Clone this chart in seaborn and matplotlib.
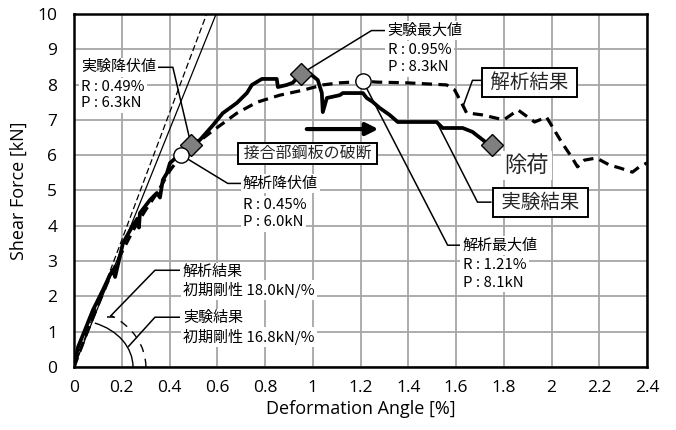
import matplotlib
matplotlib.use("Agg")
import matplotlib.pyplot as plt
from matplotlib.patches import Arc
import seaborn as sns
import pandas as pd

# Test result (experiment): deformation angle [%] vs shear force [kN]
exp_angle = [0, 0.017, 0.046, 0.079, 0.121, 0.150, 0.163, 0.172, 0.205, 0.243,
             0.265, 0.272, 0.276, 0.318, 0.347, 0.360, 0.372, 0.389, 0.402,
             0.431, 0.49, 0.527, 0.582, 0.623, 0.682, 0.724, 0.745, 0.787,
             0.849, 0.854, 0.891, 0.916, 0.95, 0.99, 1.021, 1.038, 1.042, 1.059,
             1.113, 1.126, 1.21, 1.226, 1.251, 1.28, 1.322, 1.356, 1.519, 1.544,
             1.628, 1.669, 1.728, 1.75]
exp_force = [0, 0.57, 1.05, 1.61, 2.18, 2.60, 2.75, 2.55, 3.51, 3.97,
             4.20, 3.95, 4.36, 4.73, 4.93, 4.80, 5.30, 5.49, 5.78,
             5.95, 6.30, 6.43, 6.85, 7.19, 7.48, 7.76, 7.99, 8.16,
             8.16, 7.93, 7.99, 8.05, 8.30, 8.30, 8.13, 7.76, 7.22, 7.62,
             7.70, 7.76, 7.76, 7.62, 7.51, 7.34, 7.14, 6.94, 6.94, 6.77,
             6.77, 6.66, 6.35, 6.30]

# Analysis result
ana_angle = [0, 0.05, 0.10, 0.15, 0.20, 0.25, 0.30, 0.35, 0.40, 0.45, 0.569,
             0.682, 0.766, 0.862, 0.958, 1.042, 1.113, 1.167, 1.21, 1.268,
             1.393, 1.561, 1.594, 1.628, 1.644, 1.711, 1.80, 1.86, 1.929, 1.979,
             2.004, 2.042, 2.084, 2.109, 2.138, 2.188, 2.243, 2.285, 2.339,
             2.368, 2.40]
ana_force = [0, 0.90, 1.75, 2.55, 3.25, 3.90, 4.45, 4.95, 5.55, 6.00, 6.63,
             7.19, 7.50, 7.70, 7.84, 7.99, 8.05, 8.07, 8.10, 8.07,
             8.05, 7.99, 7.85, 7.42, 7.20, 7.14, 7.00, 7.28, 6.94, 7.08,
             6.80, 6.37, 5.95, 5.67, 5.86, 5.92, 5.72, 5.64, 5.52,
             5.67, 5.78]

# Characteristic points
exp_yield = (0.49, 6.3)
exp_max = (0.95, 8.3)
exp_unload = (1.75, 6.3)
ana_yield = (0.45, 6.0)
ana_max = (1.21, 8.1)

# Initial stiffness [kN/%]
k_ana = 18.0
k_exp = 16.8

x_ticks = [0, 0.2, 0.4, 0.6, 0.8, 1, 1.2, 1.4, 1.6, 1.8, 2, 2.2, 2.4]
x_tick_labels = ["0", "0.2", "0.4", "0.6", "0.8", "1", "1.2", "1.4", "1.6",
                 "1.8", "2", "2.2", "2.4"]
y_ticks = list(range(0, 11))

sns.set_theme(style="whitegrid")
plt.rcParams["font.family"] = ["Open Sans", "Noto Sans CJK JP", "DejaVu Sans"]
JP = ["Noto Sans CJK JP", "DejaVu Sans"]

fig = plt.figure(figsize=(6.76, 4.30), dpi=100)
ax = fig.add_axes([0.1095, 0.1465, 0.8476, 0.821])

df_exp = pd.DataFrame({"angle": exp_angle, "force": exp_force})
df_ana = pd.DataFrame({"angle": ana_angle, "force": ana_force})

# Initial stiffness lines from the origin up to the top of the plot
ymax = 10
df_kexp = pd.DataFrame({"angle": [0, ymax / k_exp], "force": [0, ymax]})
df_kana = pd.DataFrame({"angle": [0, ymax / k_ana], "force": [0, ymax]})
sns.lineplot(data=df_kexp, x="angle", y="force", ax=ax, color="black", lw=0.9,
             sort=False, estimator=None, zorder=3)
sns.lineplot(data=df_kana, x="angle", y="force", ax=ax, color="black", lw=0.9,
             sort=False, estimator=None, zorder=3, linestyle=(0, (5, 2.5)))

sns.lineplot(data=df_ana, x="angle", y="force", ax=ax, color="black", lw=2.3,
             sort=False, estimator=None, zorder=4, linestyle=(0, (3.2, 2.0)))
sns.lineplot(data=df_exp, x="angle", y="force", ax=ax, color="black", lw=2.7,
             sort=False, estimator=None, zorder=4)

# Arcs marking the initial stiffness
ax.add_patch(Arc((0, 0), 2 * 0.247, 2 * 1.33, theta1=0, theta2=86,
                 color="black", lw=1.0, zorder=3))
ax.add_patch(Arc((0, 0), 2 * 0.301, 2 * 1.70, theta1=0, theta2=84,
                 color="black", lw=1.0, ls=(0, (6, 5)), zorder=3))

# Leader lines
def leader(xs, ys, lw=1.1):
    ax.plot(xs, ys, color="black", lw=lw, zorder=5, solid_capstyle="butt")

leader([0.351, 0.414, exp_yield[0]], [8.49, 8.49, exp_yield[1]])
leader([1.31, 1.246, exp_max[0]], [9.53, 9.53, exp_max[1]])
leader([ana_yield[0], 0.644, 0.703], [ana_yield[1], 5.20, 5.20])
leader([ana_max[0], 1.565, 1.623], [ana_max[1], 3.45, 3.45])
leader([1.707, 1.669, 1.628], [8.12, 8.12, 7.36])
leader([1.749, 1.69, 1.519], [4.67, 4.67, 6.94])
leader([0.444, 0.339, 0.151], [2.74, 2.74, 1.43])
leader([0.140, 0.166], [1.43, 1.43])
leader([0.444, 0.339, 0.226], [1.41, 1.41, 0.566])

# Markers
ax.plot([exp_yield[0], exp_max[0], exp_unload[0]],
        [exp_yield[1], exp_max[1], exp_unload[1]], ls="none", marker="D",
        ms=11.5, mfc="#7f7f7f", mec="black", mew=1.0, zorder=7)
ax.plot([ana_yield[0], ana_max[0]], [ana_yield[1], ana_max[1]], ls="none",
        marker="o", ms=11, mfc="white", mec="black", mew=1.0, zorder=7)

# Text annotations
plain_bbox = dict(boxstyle="square,pad=0.15", fc="white", ec="none")
def label(x, y, s, size=10.8, **kw):
    ax.text(x, y, s, fontsize=size, family=JP, va="center", ha="left",
            color="black", zorder=6, bbox=plain_bbox, **kw)

label(0.029, 8.49, "実験降伏値")
label(0.029, 7.92, "R : 0.49%")
label(0.029, 7.47, "P : 6.3kN")

label(1.314, 9.53, "実験最大値")
label(1.314, 8.97, "R : 0.95%")
label(1.314, 8.49, "P : 8.3kN")

label(0.707, 5.20, "解析降伏値")
label(0.707, 4.58, "R : 0.45%")
label(0.707, 4.10, "P : 6.0kN")

label(1.628, 3.45, "解析最大値")
label(1.628, 2.89, "R : 1.21%")
label(1.628, 2.38, "P : 8.1kN")

label(0.456, 2.69, "解析結果")
label(0.456, 2.18, "初期剛性 18.0kN/%")
label(0.456, 1.39, "実験結果")
label(0.456, 0.85, "初期剛性 16.8kN/%")

box_bbox = dict(boxstyle="square,pad=0.2", fc="white", ec="black", lw=1.4)
ax.text(1.908, 8.06, " 解析結果 ", fontsize=14, family=JP, ha="center",
        va="center", zorder=6, bbox=box_bbox)
ax.text(1.954, 4.67, " 実験結果 ", fontsize=14, family=JP, ha="center",
        va="center", zorder=6, bbox=box_bbox)
ax.text(0.979, 6.05, " 接合部鋼板の破断 ", fontsize=11.5, family=JP,
        ha="center", va="center", zorder=6,
        bbox=dict(boxstyle="square,pad=0.12", fc="white", ec="black", lw=1.4))
ax.text(1.895, 5.71, "除荷", fontsize=16, family=JP, ha="center",
        va="center", zorder=6, bbox=plain_bbox)

ax.annotate("", xy=(1.275, 6.74), xytext=(0.975, 6.74),
            arrowprops=dict(arrowstyle="-|>", lw=3, color="black",
                            mutation_scale=18, shrinkA=0, shrinkB=0),
            zorder=6)

ax.set_xlim(0, 2.4)
ax.set_ylim(0, 10)
ax.set_xticks(x_ticks)
ax.set_xticklabels(x_tick_labels)
ax.set_yticks(y_ticks)
ax.tick_params(axis="both", length=0, labelsize=12.5, colors="black")
ax.tick_params(axis="x", pad=9)
ax.tick_params(axis="y", pad=12)
ax.set_xlabel("Deformation Angle [%]", fontsize=13, color="black", labelpad=3)
ax.set_ylabel("Shear Force [kN]", fontsize=13, color="black", labelpad=7)

ax.grid(True, color="#a6a6a6", lw=1.3)
ax.set_axisbelow(True)
ax.set_facecolor("white")
for side in ["left", "bottom", "top", "right"]:
    ax.spines[side].set_color("black")
    ax.spines[side].set_linewidth(1.8)
    ax.spines[side].set_visible(True)

fig.savefig("out.png", dpi=100, facecolor="white")
